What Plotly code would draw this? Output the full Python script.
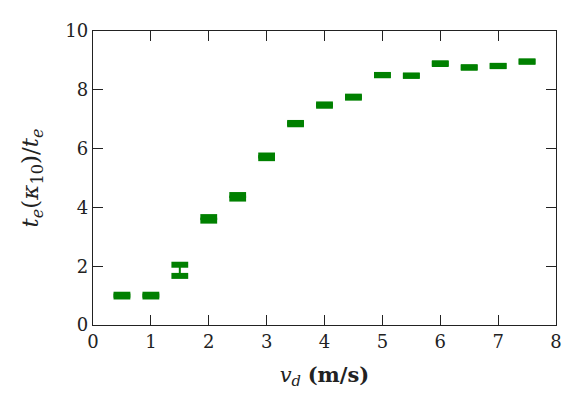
import numpy as np
import plotly.graph_objects as go

# drift speed (m/s), ratio t_e(kappa_10)/t_e and its uncertainty
v_d = [0.5, 1.0, 1.5, 2.0, 2.5, 3.0, 3.5, 4.0, 4.5, 5.0, 5.5, 6.0, 6.5, 7.0, 7.5]
ratio = [1.00, 1.00, 1.86, 3.61, 4.36, 5.72, 6.85, 7.48, 7.75, 8.50, 8.48, 8.89, 8.76, 8.81, 8.96]
ratio_err = [0.03, 0.03, 0.19, 0.06, 0.06, 0.045, 0.022, 0.022, 0.017, 0.005, 0.005, 0.012, 0.008, 0.005, 0.003]

x_ticks = [0, 1, 2, 3, 4, 5, 6, 7, 8]
y_ticks = [0, 2, 4, 6, 8, 10]

green = '#008000'
ink = '#222222'
serif = 'DejaVu Serif'

y = np.array(ratio)
err = np.array(ratio_err)

fig = go.Figure()

# error bar stems
fig.add_trace(go.Scatter(
    x=v_d, y=ratio,
    mode='markers',
    marker=dict(size=1, color=green),
    error_y=dict(type='data', array=ratio_err, color=green, thickness=2, width=0),
    showlegend=False,
    hoverinfo='skip',
))

# error bar caps
fig.add_trace(go.Scatter(
    x=list(v_d) + list(v_d),
    y=list(y + err) + list(y - err),
    mode='markers',
    marker=dict(symbol='line-ew', size=12, line=dict(color=green, width=6)),
    showlegend=False,
))

axis_common = dict(
    showline=True, linecolor=ink, linewidth=1.3, mirror='ticks',
    ticks='inside', ticklen=10, tickwidth=1.3, tickcolor=ink,
    showgrid=False, zeroline=False,
    tickfont=dict(family=serif, size=18, color=ink),
)

fig.update_xaxes(
    range=[0, 8], tickvals=x_ticks,
    title=dict(text='<i>v<sub>d</sub></i> <b>(m/s)</b>',
               font=dict(family=serif, size=21, color=ink), standoff=16),
    **axis_common
)
fig.update_yaxes(
    range=[0, 10], tickvals=y_ticks,
    title=dict(text='<i>t<sub>e</sub></i>(<i>κ</i><sub>10</sub>)/<i>t<sub>e</sub></i>',
               font=dict(family=serif, size=23, color=ink), standoff=20),
    **axis_common
)

# page body adds an 8px margin, so the figure is shifted up/left to compensate
fig.update_layout(
    width=566, height=399,
    margin=dict(l=85, r=16, t=22, b=82),
    plot_bgcolor='white', paper_bgcolor='white',
    font=dict(family=serif),
)

fig.write_html("out.html")
